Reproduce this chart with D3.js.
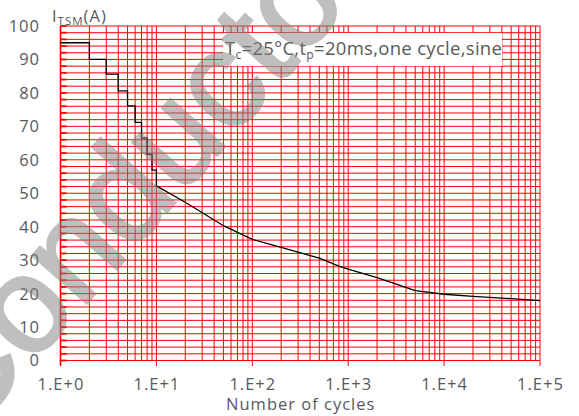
<!DOCTYPE html>
<html><head><meta charset="utf-8">
<script src="https://cdn.jsdelivr.net/npm/d3@7"></script>
<style>
html,body{margin:0;padding:0;background:#fff;}
svg{display:block;}
text{font-family:"Open Sans","Noto Sans",sans-serif;fill:#595959;}
</style></head>
<body>
<svg id="c" width="579" height="416"></svg>
<script>
// ---- data ----
const stepCycles = [1,2,3,4,5,6,7,8,9,10];
const stepCurrent = [95,90,85.6,80.6,76.1,71.2,66.5,61.6,56.9,52.2];
const decayCycles = [10,20,50,100,200,500,800,1000,2000,5000,10000,20000,50000,100000];
const decayCurrent = [52.2,47.3,40.3,36.2,33.8,30.6,28.2,27.3,24.8,20.9,19.8,19.2,18.5,17.9];
const yTickValues = [0,10,20,30,40,50,60,70,80,90,100];
const xTickValues = [1,10,100,1000,10000,100000];
const xTickLabels = ["1.E+0","1.E+1","1.E+2","1.E+3","1.E+4","1.E+5"];
const xTitle = "Number of cycles";
const watermark = "Conductor";

const svg = d3.select("#c");
const L = 60.5, R = 540, T = 26, B = 360.5;
const x = d3.scaleLog().domain([1,1e5]).range([L,R]);
const y = d3.scaleLinear().domain([0,100]).range([B,T]);

// grid
const g = svg.append("g");
const hLines = d3.range(0,101,2);
g.selectAll("line.h").data(hLines).join("line")
  .attr("x1",L).attr("x2",R).attr("y1",d=>y(d)).attr("y2",d=>y(d))
  .attr("stroke","#ff0000").attr("stroke-width",1);
const vLines = [];
for (let k=0;k<5;k++) for (let m=1;m<10;m++) vLines.push(m*Math.pow(10,k));
vLines.push(1e5);
g.selectAll("line.v").data(vLines).join("line")
  .attr("x1",d=>x(d)).attr("x2",d=>x(d)).attr("y1",T).attr("y2",B)
  .attr("stroke","#ff0000").attr("stroke-width",1);
// left axis line & inward ticks
g.append("line").attr("x1",L).attr("x2",L).attr("y1",T).attr("y2",B+5.5)
  .attr("stroke","#ff0000").attr("stroke-width",1.6);
g.selectAll("line.yt").data(hLines).join("line")
  .attr("x1",L).attr("x2",L+6).attr("y1",d=>y(d)).attr("y2",d=>y(d))
  .attr("stroke","#ff0000").attr("stroke-width",1.8);
// x decade ticks
g.selectAll("line.xt").data(xTickValues).join("line")
  .attr("x1",d=>x(d)).attr("x2",d=>x(d)).attr("y1",B).attr("y2",B+5.5)
  .attr("stroke","#ff0000").attr("stroke-width",1);

// annotation box
svg.append("rect").attr("x",223).attr("y",33).attr("width",279).attr("height",33).attr("fill","#fff");
const ann = svg.append("text").attr("x",225).attr("y",55).style("font-size","18.5px").style("letter-spacing","0.3px");
ann.append("tspan").text("T");
ann.append("tspan").attr("dy",3.5).style("font-size","12px").text("c");
ann.append("tspan").attr("dy",-3.5).text("=25°C,t");
ann.append("tspan").attr("dy",3.5).style("font-size","12px").text("p");
ann.append("tspan").attr("dy",-3.5).text("=20ms,one cycle,sine");

// curve
const pts = stepCycles.map((c,i)=>[c,stepCurrent[i]]);
const stepLine = d3.line().x(d=>x(d[0])).y(d=>y(d[1])).curve(d3.curveStepAfter);
svg.append("path").attr("d",stepLine(pts)).attr("fill","none").attr("stroke","#000").attr("stroke-width",1.3);
const dl = d3.line().x(d=>x(d[0])).y(d=>y(d[1]));
svg.append("path").attr("d",dl(decayCycles.map((c,i)=>[c,decayCurrent[i]])))
  .attr("fill","none").attr("stroke","#000").attr("stroke-width",1.3);

// y labels
svg.selectAll("text.yl").data(yTickValues).join("text")
  .attr("x",40).attr("y",d=>y(d)).attr("dy","0.36em").attr("text-anchor","end")
  .style("font-size","16.5px").style("letter-spacing","1px").text(d=>d);
// x labels
svg.selectAll("text.xl").data(xTickValues).join("text")
  .attr("x",d=>x(d)+0.5).attr("y",390).attr("text-anchor","middle")
  .style("font-size","16.5px").style("letter-spacing","1px").text((d,i)=>xTickLabels[i]);
svg.append("text").attr("x",(L+R)/2+0.5).attr("y",409.5).attr("text-anchor","middle")
  .style("font-size","16.5px").style("letter-spacing","1px").text(xTitle);
// y title
const yt = svg.append("text").attr("x",52).attr("y",21.5).style("font-size","16.5px").style("letter-spacing","1px");
yt.append("tspan").text("I");
yt.append("tspan").attr("dy",3.5).style("font-size","11.5px").text("TSM");
yt.append("tspan").attr("dy",-3.5).text("(A)");

// watermark
svg.append("text").attr("transform","translate(-62,416) rotate(-48.6)")
  .attr("y","0.27em")
  .style("font-family","'Liberation Sans',Arial,sans-serif").style("font-size","136px")
  .style("fill","#808080").style("stroke","#808080").style("stroke-width","3px")
  .style("opacity",0.5).text(watermark);
</script>
</body></html>
